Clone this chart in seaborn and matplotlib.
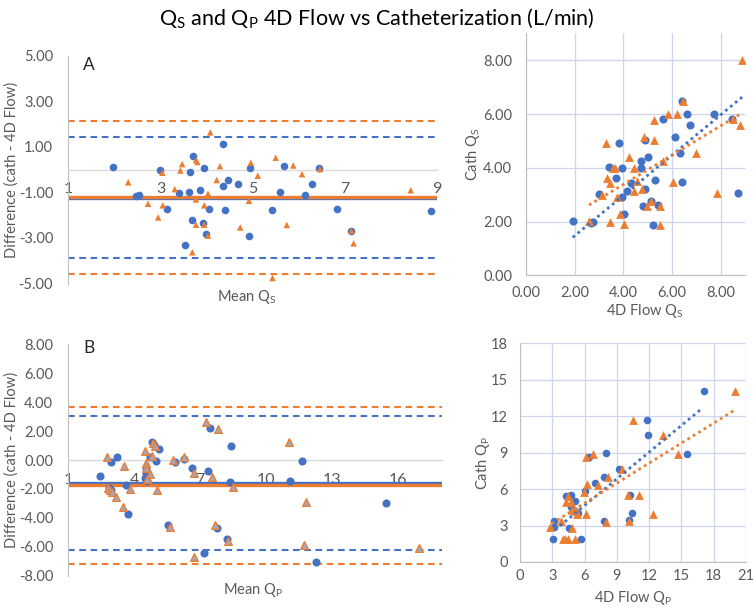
import numpy as np
import pandas as pd
import matplotlib
matplotlib.use('Agg')
import matplotlib.pyplot as plt
import seaborn as sns

# colours (Excel defaults)
BLUE = '#4472C4'
ORANGE = '#ED7D31'
TEXT = '#595959'
AXIS = '#BFBFBF'
ZERO = '#D9D9D9'
GRID = '#CDD6EE'

# ---- Panel A: Bland-Altman Qs ----
qs_mean_blue = [1.96, 2.47, 2.54, 2.99, 3.14, 3.40, 3.62, 3.64, 3.71, 3.86, 3.95, 3.69, 3.92, 3.99, 4.05, 3.53,
                4.35, 4.35, 4.47, 4.41, 4.69, 4.94, 4.93, 5.41, 5.60, 5.68, 6.14, 6.28, 6.43, 6.84, 7.14, 8.87]
qs_diff_blue = [0.11, -1.16, -1.13, -0.02, -1.73, -1.02, -0.99, -0.10, 0.61, -0.90, 0.07, -2.23, -2.35, -2.83, -1.73, -3.33,
                1.10, -0.71, -0.46, -1.79, -0.62, 0.08, -2.93, -1.78, -1.00, 0.17, -1.13, -0.62, 0.08, -1.72, -2.70, -1.82]
qs_mean_orange = [2.30, 2.73, 2.95, 3.05, 3.04, 3.31, 3.43, 3.47, 3.77, 3.80, 3.77, 3.77, 3.69, 3.95, 3.95, 4.03, 4.03,
                  4.08, 4.22, 4.29, 4.73, 4.92, 4.96, 5.11, 5.50, 5.88, 5.74, 6.07, 6.46, 7.14, 7.19, 8.43, 5.43]
qs_diff_orange = [-0.56, -1.50, -2.10, -1.57, -0.14, -0.86, -0.04, 0.24, 0.42, 0.33, -1.31, -2.42, -3.63, -1.57, -2.42, -2.90, -1.06,
                  1.63, -0.46, 0.15, -2.54, -1.37, 0.30, -0.27, 0.52, 0.18, -2.43, -0.20, 0.02, -2.68, -3.24, -0.91, -4.76]
qs_bias_blue, qs_loa_blue = -1.25, [1.41, -3.87]
qs_bias_orange, qs_loa_orange = -1.20, [2.12, -4.57]

# ---- Panel B: Bland-Altman Qp ----
qp_mean_blue = [2.46, 2.85, 2.94, 2.96, 3.21, 3.65, 3.74, 4.49, 4.55, 4.53, 4.60, 4.72, 4.81, 4.92, 5.00, 5.11,
                5.53, 5.85, 6.26, 6.64, 7.18, 7.35, 7.47, 7.79, 8.22, 8.37, 8.40, 11.09, 11.65, 15.47, 12.29]
qp_diff_blue = [-1.13, -1.91, -0.12, -2.09, 0.21, -1.73, -3.75, -1.22, -0.87, -0.53, -1.43, 0.23, 1.24, 1.04, -0.05, 0.76,
                -4.49, -0.16, 0.09, -0.53, -6.40, -0.74, 2.23, -4.70, -5.43, -1.50, 0.99, -1.43, -0.05, -2.99, -7.02]
qp_mean_orange = [2.76, 2.82, 2.89, 2.98, 3.17, 3.47, 3.52, 3.80, 4.51, 4.53, 4.56, 4.60, 4.70, 4.82, 4.88, 4.94,
                  5.02, 5.62, 5.79, 6.26, 6.73, 6.72, 7.26, 7.56, 7.67, 7.82, 8.28, 8.52, 11.03, 11.84, 11.72, 16.97]
qp_diff_orange = [0.23, -1.91, -2.07, -2.21, -2.58, -3.22, -0.39, -1.98, 0.60, -0.23, -0.58, -1.34, -0.99, 0.28, 1.15, 0.97,
                  -2.09, -4.63, -0.02, 0.21, -0.92, -6.68, 2.60, -1.15, -4.51, 2.12, -5.57, -1.84, 1.24, -2.92, -5.87, -6.05]
qp_bias_blue, qp_loa_blue = -1.56, [3.05, -6.19]
qp_bias_orange, qp_loa_orange = -1.75, [3.65, -7.15]

# ---- Scatter Qs: 4D flow vs cath ----
qs_flow_blue = [1.92, 2.69, 2.74, 3.01, 3.42, 3.82, 3.69, 3.93, 3.93, 4.02, 4.13, 4.31, 4.71, 4.71, 4.91, 4.82,
                4.91, 5.02, 5.12, 5.23, 5.31, 5.42, 5.61, 6.11, 6.32, 6.42, 6.42, 6.61, 6.72, 7.72, 8.48, 8.71]
qs_cath_blue = [2.03, 1.93, 1.99, 3.01, 4.02, 4.93, 3.62, 4.00, 2.92, 2.28, 3.15, 3.42, 4.25, 4.01, 3.20, 2.59,
                5.02, 4.40, 2.77, 1.89, 3.53, 2.61, 5.80, 5.13, 4.54, 6.50, 3.48, 5.99, 5.60, 5.99, 5.82, 3.07]
qs_flow_orange = [8.89, 2.59, 3.12, 3.27, 3.34, 3.47, 3.46, 3.57, 3.64, 3.75, 3.86, 4.01, 4.23, 4.45, 4.45, 4.56, 4.75,
                  4.84, 4.98, 5.14, 5.27, 5.27, 5.49, 5.51, 5.64, 5.83, 6.03, 6.20, 6.47, 6.98, 7.84, 8.51, 8.81]
qs_cath_orange = [8.00, 2.02, 2.98, 4.92, 3.63, 1.99, 3.42, 4.01, 4.00, 2.92, 2.29, 1.92, 4.41, 4.01, 3.15, 3.52, 3.21,
                  5.13, 2.59, 2.76, 5.77, 5.02, 2.59, 1.89, 4.26, 5.99, 3.48, 5.99, 6.49, 4.54, 3.07, 5.81, 5.60]
# linear trendlines as shown (slope, intercept) and their x span
qs_trend_blue, qs_trend_x_blue = (0.75, -0.03), [1.92, 9.0]
qs_trend_orange, qs_trend_x_orange = (0.545, 1.20), [2.59, 8.89]

# ---- Scatter Qp: 4D flow vs cath ----
qp_flow_blue = [3.10, 3.13, 3.19, 4.27, 4.55, 4.77, 4.71, 5.11, 5.11, 5.42, 5.67, 6.00, 6.41, 6.97, 7.77, 7.83,
                7.99, 9.20, 10.22, 10.09, 10.43, 11.76, 11.89, 15.48, 17.06]
qp_cath_blue = [1.92, 2.91, 3.35, 5.47, 2.83, 5.49, 4.56, 5.03, 4.23, 4.07, 1.92, 5.85, 8.65, 6.46, 7.00, 3.35,
                8.93, 7.66, 5.49, 3.46, 4.01, 11.70, 10.47, 8.87, 14.04]
qp_flow_orange = [2.76, 3.78, 3.96, 4.21, 4.49, 4.30, 4.49, 4.71, 4.86, 4.86, 5.14, 5.17, 5.26, 5.94, 6.10, 6.13,
                  6.22, 6.81, 7.24, 8.20, 8.02, 9.50, 10.00, 10.12, 10.46, 11.08, 12.32, 13.31, 14.67, 20.00]
qp_cath_orange = [2.91, 3.35, 1.92, 1.92, 1.92, 4.92, 5.47, 4.97, 2.83, 4.29, 1.92, 4.23, 3.98, 5.80, 8.63, 3.98,
                  6.40, 8.90, 6.32, 7.03, 3.27, 7.66, 5.49, 3.41, 11.70, 5.52, 3.98, 10.44, 8.87, 14.04]
qp_trend_blue, qp_trend_x_blue = (0.732, 0.26), [3.25, 16.87]
qp_trend_orange, qp_trend_x_orange = (0.549, 1.55), [2.94, 20.0]

sns.set_style('white')
plt.rcParams['font.family'] = ['Lato', 'DejaVu Sans']

LABEL_SIZE = 10.5


def sub(letter):
    return 'Q$_{\\mathregular{' + letter + '}}$'


def center_labels(ax):
    ax.xaxis.label.set_va('center')
    ax.yaxis.label.set_va('center')


def bland_altman(ax, mb, db, mo, do, bias_b, loa_b, bias_o, loa_o, tri_face, tri_edge, sizes):
    # limits of agreement + bias
    for v in loa_o:
        ax.axhline(v, color=ORANGE, lw=1.5, dashes=(3.2, 2.2), zorder=1)
    for v in loa_b:
        ax.axhline(v, color=BLUE, lw=1.5, dashes=(3.2, 2.2), zorder=1)
    ax.axhline(bias_b, color=BLUE, lw=2.4, zorder=1)
    ax.axhline(bias_o, color=ORANGE, lw=2.4, zorder=1)

    sns.scatterplot(x=mb, y=db, ax=ax, color=BLUE, marker='o', s=sizes[0], linewidth=0, zorder=3)
    sns.scatterplot(x=mo, y=do, ax=ax, color=tri_face, marker='^', s=sizes[1],
                    edgecolor=tri_edge, linewidth=1.0, zorder=4)

    for side in ['top', 'right']:
        ax.spines[side].set_visible(False)
    ax.spines['left'].set_color(AXIS)
    ax.spines['bottom'].set_position(('data', 0))
    ax.spines['bottom'].set_color(ZERO)
    ax.spines['bottom'].set_linewidth(1.0)
    ax.tick_params(axis='x', length=0, pad=9, labelsize=11.5, labelcolor=TEXT)
    ax.tick_params(axis='y', length=0, pad=11, labelsize=10.5, labelcolor=TEXT)
    ax.yaxis.set_major_formatter(plt.FuncFormatter(lambda v, p: f'{v:.2f}'))
    ax.set_ylabel('Difference (cath - 4D Flow)', fontsize=LABEL_SIZE, color=TEXT)
    ax.yaxis.set_label_coords(-0.153, 0.5)


def trend(ax, xs, coef, color):
    xx = np.array(xs)
    sns.lineplot(x=xx, y=coef[0] * xx + coef[1], ax=ax, color=color, lw=2, ls=(0, (1, 1.3)), zorder=5)


def flow_scatter(ax, fb, cb, fo, co, sizes):
    ax.set_axisbelow(True)
    ax.grid(True, color=GRID, lw=0.9)
    sns.scatterplot(x=fb, y=cb, ax=ax, color=BLUE, marker='o', s=sizes[0], linewidth=0, zorder=3)
    sns.scatterplot(x=fo, y=co, ax=ax, color=ORANGE, marker='^', s=sizes[1], linewidth=0, zorder=4)
    for side in ['top', 'right']:
        ax.spines[side].set_visible(False)
    for side in ['left', 'bottom']:
        ax.spines[side].set_color(AXIS)
    ax.tick_params(length=0, labelsize=10.5, labelcolor=TEXT)


fig = plt.figure(figsize=(7.54, 6.11), dpi=100)
fig.text(0.5, 0.969, sub('S') + ' and ' + sub('P') + ' 4D Flow vs Catheterization (L/min)',
         ha='center', va='center', fontsize=15.5, color='black')

# A - Bland-Altman
ax1 = fig.add_axes([0.0906, 0.536, 0.489, 0.373])
bland_altman(ax1, qs_mean_blue, qs_diff_blue, qs_mean_orange, qs_diff_orange,
             qs_bias_blue, qs_loa_blue, qs_bias_orange, qs_loa_orange, ORANGE, 'none', (30, 22))
ax1.set_xlim(1, 9)
ax1.set_ylim(-5, 5)
ax1.set_xticks([1, 3, 5, 7, 9])
ax1.set_yticks(np.arange(-5, 6, 2))
ax1.set_xlabel('Mean ' + sub('S'), fontsize=LABEL_SIZE, color=TEXT)
ax1.xaxis.set_label_coords(0.484, -0.058)
center_labels(ax1)
ax1.text(0.04, 0.958, 'A', transform=ax1.transAxes, fontsize=12.5, va='center')

# A - scatter
ax2 = fig.add_axes([0.6976, 0.5494, 0.2905, 0.396])
flow_scatter(ax2, qs_flow_blue, qs_cath_blue, qs_flow_orange, qs_cath_orange, (34, 40))
trend(ax2, qs_trend_x_blue, qs_trend_blue, BLUE)
trend(ax2, qs_trend_x_orange, qs_trend_orange, ORANGE)
ax2.set_xlim(0, 9)
ax2.set_ylim(0, 9)
ax2.set_xticks(np.arange(0, 9, 2))
ax2.set_yticks(np.arange(0, 9, 2))
ax2.xaxis.set_major_formatter(plt.FuncFormatter(lambda v, p: f'{v:.2f}'))
ax2.yaxis.set_major_formatter(plt.FuncFormatter(lambda v, p: f'{v:.2f}'))
ax2.tick_params(axis='x', pad=8)
ax2.tick_params(axis='y', pad=10)
ax2.set_xlabel('4D Flow ' + sub('S'), fontsize=LABEL_SIZE, color=TEXT)
ax2.xaxis.set_label_coords(0.54, -0.146)
ax2.set_ylabel('Cath ' + sub('S'), fontsize=LABEL_SIZE, color=TEXT)
ax2.yaxis.set_label_coords(-0.242, 0.5)
center_labels(ax2)

# B - Bland-Altman
ax3 = fig.add_axes([0.0906, 0.0576, 0.495, 0.379])
bland_altman(ax3, qp_mean_blue, qp_diff_blue, qp_mean_orange, qp_diff_orange,
             qp_bias_blue, qp_loa_blue, qp_bias_orange, qp_loa_orange, '#9FA9C4', ORANGE, (34, 30))
ax3.set_xlim(1, 18)
ax3.set_ylim(-8, 8)
ax3.set_xticks([1, 4, 7, 10, 13, 16])
ax3.set_yticks(np.arange(-8, 9, 2))
ax3.set_xlabel('Mean ' + sub('P'), fontsize=LABEL_SIZE, color=TEXT)
ax3.xaxis.set_label_coords(0.495, -0.061)
center_labels(ax3)
ax3.text(0.04, 0.984, 'B', transform=ax3.transAxes, fontsize=12.5, va='center')

# B - scatter
ax4 = fig.add_axes([0.6897, 0.0802, 0.2997, 0.358])
flow_scatter(ax4, qp_flow_blue, qp_cath_blue, qp_flow_orange, qp_cath_orange, (30, 40))
trend(ax4, qp_trend_x_blue, qp_trend_blue, BLUE)
trend(ax4, qp_trend_x_orange, qp_trend_orange, ORANGE)
ax4.set_xlim(0, 21)
ax4.set_ylim(0, 18)
ax4.set_xticks(np.arange(0, 22, 3))
ax4.set_yticks(np.arange(0, 19, 3))
ax4.tick_params(axis='x', pad=5)
ax4.tick_params(axis='y', pad=9)
ax4.set_xlabel('4D Flow ' + sub('P'), fontsize=LABEL_SIZE, color=TEXT)
ax4.xaxis.set_label_coords(0.501, -0.166)
ax4.set_ylabel('Cath ' + sub('P'), fontsize=LABEL_SIZE, color=TEXT)
ax4.yaxis.set_label_coords(-0.162, 0.453)
center_labels(ax4)

fig.savefig('out.png', dpi=100)
